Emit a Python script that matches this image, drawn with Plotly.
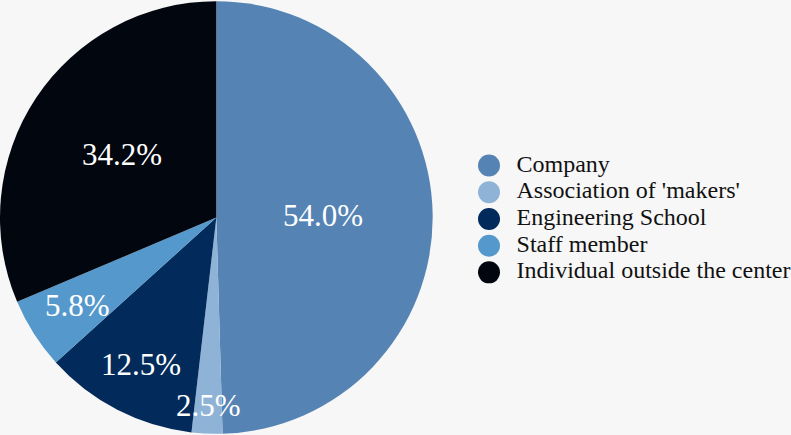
import math
import plotly.graph_objects as go

categories = ["Company", "Association of 'makers'", "Engineering School", "Staff member", "Individual outside the center"]
values = [54.0, 2.5, 12.5, 5.8, 34.2]
colors = ["#5584b4", "#8fb3d6", "#022b5c", "#5599cc", "#02060f"]

# styling / layout (not data)
label_radius = [0.495, 0.87, 0.765, 0.76, 0.525]  # label distance from centre, fraction of radius
FONT = "Liberation Serif"
W, H = 791, 435
PIE_DOM_X = [0.0, 0.547]

fig = go.Figure()
fig.add_trace(go.Pie(
    labels=categories, values=values, sort=False, direction="clockwise", rotation=0,
    marker=dict(colors=colors, line=dict(width=0)), textinfo="none", showlegend=False,
    domain=dict(x=PIE_DOM_X, y=[0.0, 1.0]), hoverinfo="label+value",
))

# value labels at each slice's mid-angle, derived from the values
cx = (PIE_DOM_X[0] + PIE_DOM_X[1]) / 2 * W
cy = H / 2
r = min((PIE_DOM_X[1] - PIE_DOM_X[0]) * W, H) / 2
total = sum(values)
cum = 0.0
for v, fr in zip(values, label_radius):
    mid = (cum + v / 2) / total * 2 * math.pi
    cum += v
    px = cx + fr * r * math.sin(mid)
    py = cy + fr * r * math.cos(mid)
    fig.add_annotation(
        x=px / W, y=py / H, xref="paper", yref="paper", text=f"{v:.1f}%", showarrow=False,
        font=dict(family=FONT, size=31, color="white"), xanchor="center", yanchor="middle",
    )

# legend: circle markers + labels on a hidden axis
idx = list(range(len(categories)))
fig.add_trace(go.Scatter(
    x=[0.0455] * len(categories), y=idx, mode="markers",
    marker=dict(size=22, color=colors, symbol="circle"), showlegend=False, hoverinfo="skip",
))
fig.add_trace(go.Scatter(
    x=[0.1326] * len(categories), y=idx, mode="text", text=categories, textposition="middle right",
    textfont=dict(family=FONT, size=24, color="#111111"),
    showlegend=False, hoverinfo="skip",
))

fig.update_layout(
    width=W, height=H, margin=dict(l=0, r=0, t=0, b=0),
    paper_bgcolor="#f7f7f7", plot_bgcolor="rgba(0,0,0,0)",
    xaxis=dict(visible=False, domain=[0.6, 1.0], range=[0, 1], fixedrange=True),
    yaxis=dict(visible=False, range=[10.09, -6.199], fixedrange=True),
    showlegend=False,
)

fig.write_html("out.html", config={"displayModeBar": False}, post_script="document.body.style.margin='0';")
